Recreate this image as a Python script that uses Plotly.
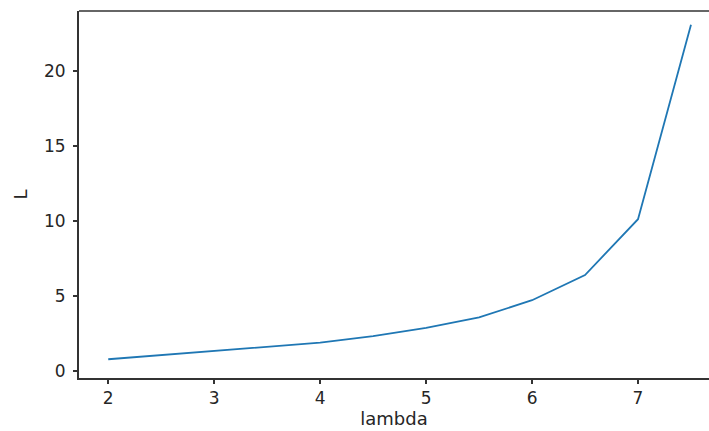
import plotly.graph_objects as go

# lambda values and the corresponding L
lam = [2.0, 2.5, 3.0, 3.5, 4.0, 4.5, 5.0, 5.5, 6.0, 6.5, 7.0, 7.5]
L = [0.76, 1.03, 1.31, 1.56, 1.87, 2.3, 2.85, 3.55, 4.7, 6.38, 10.1, 23.08]

x_ticks = [2, 3, 4, 5, 6, 7]
y_ticks = [0, 5, 10, 15, 20]

axis_color = "#333333"
text_color = "#262626"
font_family = "DejaVu Sans"
font_size = 17

fig = go.Figure()
fig.add_trace(go.Scatter(
    x=lam, y=L, mode="lines",
    line=dict(color="#1f77b4", width=1.8),
    showlegend=False,
))

fig.update_layout(
    width=709, height=431,
    margin=dict(l=79, r=0, t=11, b=53),
    paper_bgcolor="white", plot_bgcolor="white",
    font=dict(family=font_family, size=font_size, color=text_color),
    xaxis=dict(
        range=[1.724, 7.67],
        tickvals=x_ticks,
        ticks="outside", ticklen=4, tickwidth=1.5, tickcolor=axis_color,
        showline=True, linecolor=axis_color, linewidth=2,
        showgrid=False, zeroline=False,
        tickfont=dict(size=font_size, color=text_color),
        title=dict(text="lambda", font=dict(size=font_size + 1, color=text_color), standoff=5),
    ),
    yaxis=dict(
        range=[-0.49, 23.99],
        tickvals=y_ticks,
        ticks="outside", ticklen=4, tickwidth=1.5, tickcolor=axis_color,
        showline=True, linecolor=axis_color, linewidth=2,
        showgrid=False, zeroline=False,
        ticklabelstandoff=4,
        tickfont=dict(size=font_size, color=text_color),
        title=dict(text="L", font=dict(size=font_size + 1, color=text_color), standoff=12),
    ),
    shapes=[dict(
        type="line", xref="paper", yref="paper",
        x0=0, x1=1, y0=1, y1=1,
        line=dict(color=axis_color, width=1.5),
    )],
)

fig.write_html("out.html")
